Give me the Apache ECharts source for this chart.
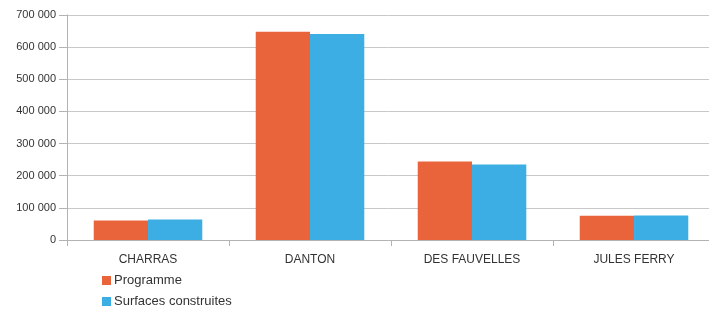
<!DOCTYPE html>
<html>
<head>
<meta charset="utf-8">
<script src="https://cdn.jsdelivr.net/npm/echarts@6/dist/echarts.min.js"></script>
<style>
  html, body { margin: 0; padding: 0; background: #fff; }
  #main { width: 709px; height: 312px; }
</style>
</head>
<body>
<div id="main"></div>
<script>
// données
const categories = ["CHARRAS", "DANTON", "DES FAUVELLES", "JULES FERRY"];
const programme = [61000, 648000, 244000, 75500];
const surfaces = [64000, 641000, 235000, 76500];
const seriesNames = ["Programme", "Surfaces construites"];

const chart = echarts.init(document.getElementById("main"));
chart.setOption({
  animation: false,
  textStyle: { fontFamily: "Liberation Sans" },
  grid: { left: 67, width: 648, top: 15, bottom: 72, outerBoundsMode: "none" },
  legend: {
    orient: "vertical",
    left: 102,
    top: 274,
    padding: 0,
    itemWidth: 9,
    itemHeight: 9,
    itemGap: 8,
    icon: "rect",
    data: seriesNames,
    textStyle: { color: "#333", fontSize: 13, padding: [0, 0, 0, -2] },
  },
  xAxis: {
    type: "category",
    data: categories,
    axisLine: { lineStyle: { color: "#b3b3b3" } },
    axisTick: { show: true, length: 6, lineStyle: { color: "#b3b3b3" } },
    axisLabel: { color: "#333", fontSize: 12, margin: 14 },
  },
  yAxis: {
    type: "value",
    min: 0,
    max: 700000,
    interval: 100000,
    axisLine: { show: true, lineStyle: { color: "#b3b3b3" } },
    axisTick: { show: true, length: 8, lineStyle: { color: "#b3b3b3" } },
    splitLine: { lineStyle: { color: "#c8c8c8" } },
    axisLabel: {
      color: "#333",
      fontSize: 11,
      margin: 11,
      formatter: function (v) {
        return String(v).replace(/\B(?=(\d{3})+(?!\d))/g, " ");
      },
    },
  },
  series: [
    {
      name: seriesNames[0],
      type: "bar",
      data: programme,
      itemStyle: { color: "#e9643a" },
      barGap: "0%",
      barCategoryGap: "33%",
    },
    {
      name: seriesNames[1],
      type: "bar",
      data: surfaces,
      itemStyle: { color: "#3caee3" },
      barGap: "0%",
      barCategoryGap: "33%",
    },
  ],
});
</script>
</body>
</html>
